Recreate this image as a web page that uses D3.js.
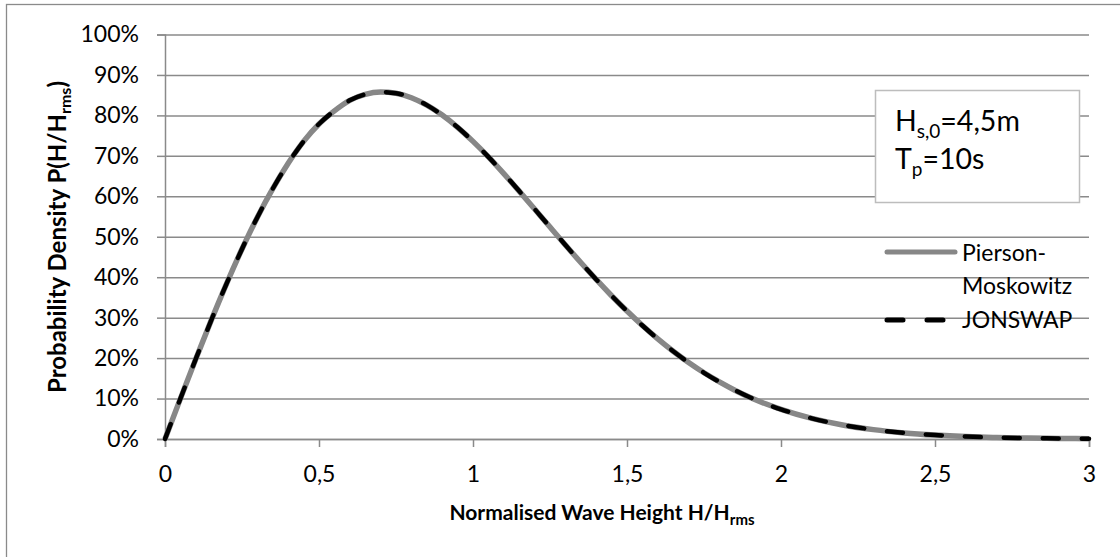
<!DOCTYPE html>
<html>
<head>
<meta charset="utf-8">
<script src="https://cdn.jsdelivr.net/npm/d3@7"></script>
<style>
  body { margin: 0; background: #fff; }
  svg { display: block; font-family: Lato, "Open Sans", sans-serif; }
</style>
</head>
<body>
<svg id="chart" width="1120" height="557"></svg>
<script>
// Data
const xValues = [0,0.05,0.1,0.15,0.2,0.25,0.3,0.35,0.4,0.45,0.5,0.55,0.6,0.65,0.7,0.75,0.8,0.85,0.9,0.95,1.0,1.05,1.1,1.15,1.2,1.25,1.3,1.35,1.4,1.45,1.5,1.55,1.6,1.65,1.7,1.75,1.8,1.85,1.9,1.95,2.0,2.1,2.2,2.3,2.4,2.5,2.6,2.7,2.8,2.9,3.0];
const piersonMoskowitz = [0,0.0998,0.198,0.2933,0.3843,0.4697,0.5483,0.6189,0.6817,0.7358,0.7788,0.8113,0.8372,0.8520,0.8577,0.8547,0.8437,0.8254,0.8008,0.7706,0.7358,0.6975,0.6561,0.6129,0.5686,0.5240,0.4797,0.4363,0.3944,0.3542,0.3162,0.2805,0.2474,0.2169,0.1890,0.1637,0.1411,0.1207,0.1027,0.0870,0.0733,0.0511,0.0348,0.0232,0.0151,0.0097,0.0060,0.0037,0.0022,0.0013,0.0007];
const jonswap = [0,0.0998,0.198,0.2933,0.3843,0.4697,0.5483,0.6189,0.6817,0.7358,0.7788,0.8113,0.8372,0.8520,0.8577,0.8547,0.8437,0.8254,0.8008,0.7706,0.7358,0.6975,0.6561,0.6129,0.5686,0.5240,0.4797,0.4363,0.3944,0.3542,0.3162,0.2805,0.2474,0.2169,0.1890,0.1637,0.1411,0.1207,0.1027,0.0870,0.0733,0.0511,0.0348,0.0232,0.0151,0.0097,0.0060,0.0037,0.0022,0.0013,0.0007];
const xTicks = [0,0.5,1,1.5,2,2.5,3];
const xTickLabels = ["0","0,5","1","1,5","2","2,5","3"];
const yTicks = [0,0.1,0.2,0.3,0.4,0.5,0.6,0.7,0.8,0.9,1.0];
const yTickLabels = ["0%","10%","20%","30%","40%","50%","60%","70%","80%","90%","100%"];
const seriesNames = ["Pierson-Moskowitz","JONSWAP"];

(function(){
const svg = d3.select("#chart");
const pl = 165, pr = 1089, pt = 34.5, pb = 439;
const x = d3.scaleLinear().domain([0,3]).range([pl,pr]);
const y = d3.scaleLinear().domain([0,1]).range([pb,pt]);
const gridColor = "#8a8a8a";
const fs = 23;

// outer frame
svg.append("rect").attr("x",6.5).attr("y",4.5).attr("width",1130).attr("height",570)
  .attr("fill","#fff").attr("stroke",gridColor).attr("stroke-width",1.3);

// gridlines + y ticks
const yAxis = d3.axisLeft(y).tickValues(yTicks).tickSize(8)
  .tickFormat((d,i)=>yTickLabels[i]);
const gy = svg.append("g").attr("transform",`translate(${pl},0)`).call(yAxis);
gy.select(".domain").attr("stroke",gridColor).attr("stroke-width",1.5);
gy.selectAll(".tick line").attr("stroke",gridColor).attr("stroke-width",1.5);
gy.selectAll(".tick").append("line").attr("x1",0).attr("x2",pr-pl)
  .attr("stroke",gridColor).attr("stroke-width",1.5);
gy.selectAll(".tick text").attr("x",-26).attr("font-size",fs).attr("fill","#000")
  .attr("font-family","Lato, sans-serif");

// x axis
const xAxis = d3.axisBottom(x).tickValues(xTicks).tickSize(8)
  .tickFormat((d,i)=>xTickLabels[i]);
const gx = svg.append("g").attr("transform",`translate(0,${pb})`).call(xAxis);
gx.select(".domain").attr("stroke",gridColor).attr("stroke-width",1.5);
gx.selectAll(".tick line").attr("stroke",gridColor).attr("stroke-width",1.5);
gx.selectAll(".tick text").attr("y",27).attr("font-size",fs).attr("fill","#000")
  .attr("font-family","Lato, sans-serif");

// axis titles
const yt = svg.append("text").attr("transform",`translate(66,237) rotate(-90)`)
  .attr("text-anchor","middle").attr("font-size",24).attr("font-weight","bold");
yt.append("tspan").text("Probability Density P(H/H");
yt.append("tspan").attr("font-size",16).attr("dy",5).text("rms");
yt.append("tspan").attr("dy",-5).text(")");

const xt = svg.append("text").attr("x",602).attr("y",520)
  .attr("text-anchor","middle").attr("font-size",21).attr("font-weight","bold");
xt.append("tspan").text("Normalised Wave Height H/H");
xt.append("tspan").attr("font-size",15).attr("dy",5).text("rms");

// lines
const line = d3.line().x((d,i)=>x(xValues[i])).y(d=>y(d)).curve(d3.curveMonotoneX);
svg.append("path").datum(piersonMoskowitz).attr("d",line).attr("fill","none")
  .attr("stroke","#878787").attr("stroke-width",5.5);
svg.append("path").datum(jonswap).attr("d",line).attr("fill","none")
  .attr("stroke","#000").attr("stroke-width",4.5).attr("stroke-linecap","round")
  .attr("stroke-dasharray","16,23");

// annotation box
const ab = svg.append("g");
ab.append("rect").attr("x",875.5).attr("y",90.5).attr("width",204).attr("height",112)
  .attr("fill","#fff").attr("stroke","#bdbdbd").attr("stroke-width",1.5);
const t1 = ab.append("text").attr("x",895).attr("y",131).attr("font-size",28.5);
t1.append("tspan").text("H");
t1.append("tspan").attr("font-size",19).attr("dy",7).text("s,0");
t1.append("tspan").attr("dy",-7).text("=4,5m");
const t2 = ab.append("text").attr("x",895).attr("y",169).attr("font-size",28.5);
t2.append("tspan").text("T");
t2.append("tspan").attr("font-size",19).attr("dy",7).text("p");
t2.append("tspan").attr("dy",-7).text("=10s");

// legend
const lg = svg.append("g");
lg.append("line").attr("x1",887).attr("x2",955).attr("y1",252).attr("y2",252)
  .attr("stroke","#878787").attr("stroke-width",5).attr("stroke-linecap","round");
lg.append("text").attr("x",962).attr("y",253).attr("dy","0.35em").attr("font-size",fs).text("Pierson-");
lg.append("text").attr("x",962).attr("y",286).attr("dy","0.35em").attr("font-size",fs).text("Moskowitz");
lg.append("line").attr("x1",887).attr("x2",955).attr("y1",320).attr("y2",320)
  .attr("stroke","#000").attr("stroke-width",5).attr("stroke-linecap","round")
  .attr("stroke-dasharray","16,24");
lg.append("text").attr("x",962).attr("y",320).attr("dy","0.35em").attr("font-size",fs).text("JONSWAP");
})();
</script>
</body>
</html>
